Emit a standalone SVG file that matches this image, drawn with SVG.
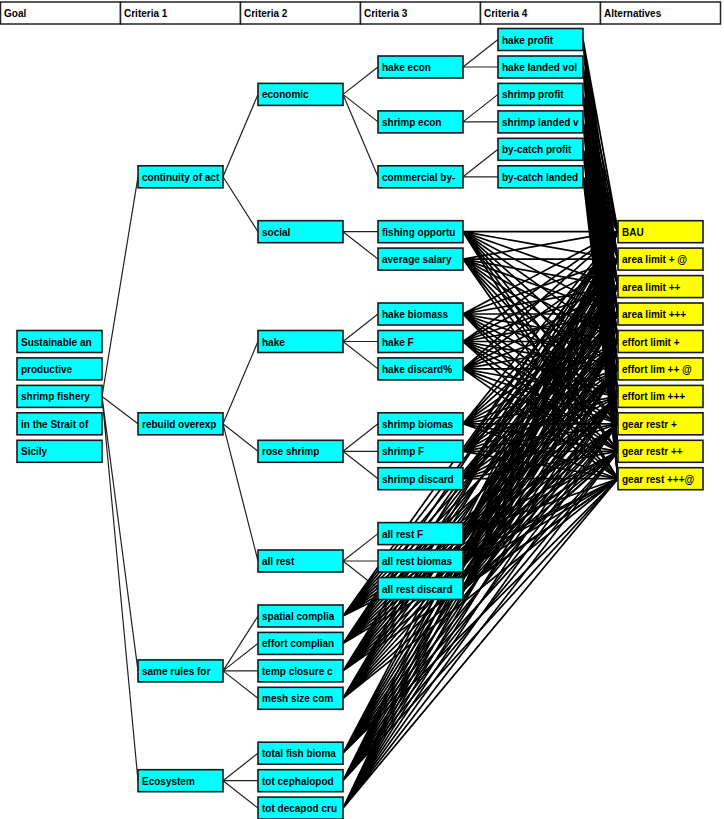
<svg xmlns="http://www.w3.org/2000/svg" width="724" height="819" viewBox="0 0 724 819">
<style>
text{font-family:"Liberation Sans",Arial,sans-serif;font-size:10px;font-weight:bold;fill:#000}
.h rect{fill:#fff;stroke:#222;stroke-width:1.5}
.n rect{fill:#00ffff;stroke:#1a1a1a;stroke-width:1.6}
.a rect{fill:#ffff00;stroke:#1a1a1a;stroke-width:1.6}
.t path{fill:none;stroke:#222;stroke-width:1.2}
.f path{fill:none;stroke:#000;stroke-width:1.7}
</style>
<rect width="724" height="819" fill="#fff"/>
<g id="header" class="h">
<rect x="0.5" y="2" width="120" height="22"/><text x="4" y="17">Goal</text>
<rect x="120.5" y="2" width="120" height="22"/><text x="124" y="17">Criteria 1</text>
<rect x="240.5" y="2" width="120" height="22"/><text x="244" y="17">Criteria 2</text>
<rect x="360.5" y="2" width="120" height="22"/><text x="364" y="17">Criteria 3</text>
<rect x="480.5" y="2" width="120" height="22"/><text x="484" y="17">Criteria 4</text>
<rect x="600.5" y="2" width="120" height="22"/><text x="604" y="17">Alternatives</text>
</g>
<g id="connectors">
<g class="t">
<path d="M102 396.4L138 176.8M102 396.4L138 423.8M102 396.4L138 670.9M102 396.4L138 780.7"/>
<path d="M223 176.8L258 94.4M223 176.8L258 231.7"/>
<path d="M223 423.8L258 341.5M223 423.8L258 451.3M223 423.8L258 561"/>
<path d="M223 670.9L258 616M223 670.9L258 643.4M223 670.9L258 670.9M223 670.9L258 698.3"/>
<path d="M223 780.7L258 753.2M223 780.7L258 780.7M223 780.7L258 808.1"/>
<path d="M343 94.4L378 67M343 94.4L378 121.9M343 94.4L378 176.8"/>
<path d="M343 231.7L378 231.7M343 231.7L378 259.1"/>
<path d="M343 341.5L378 314M343 341.5L378 341.5M343 341.5L378 368.9"/>
<path d="M343 451.3L378 423.8M343 451.3L378 451.3M343 451.3L378 478.7"/>
<path d="M343 561L378 533.6M343 561L378 561M343 561L378 588.5"/>
<path d="M463 67L498 39.5M463 67L498 67"/>
<path d="M463 121.9L498 94.4M463 121.9L498 121.9"/>
<path d="M463 176.8L498 149.3M463 176.8L498 176.8"/>
</g>
<g class="f">
<path d="M583 39.5L618 231.7M583 39.5L618 259.1M583 39.5L618 286.6M583 39.5L618 314M583 39.5L618 341.5M583 39.5L618 368.9M583 39.5L618 396.4M583 39.5L618 423.8M583 39.5L618 451.3M583 39.5L618 478.7"/>
<path d="M583 67L618 231.7M583 67L618 259.1M583 67L618 286.6M583 67L618 314M583 67L618 341.5M583 67L618 368.9M583 67L618 396.4M583 67L618 423.8M583 67L618 451.3M583 67L618 478.7"/>
<path d="M583 94.4L618 231.7M583 94.4L618 259.1M583 94.4L618 286.6M583 94.4L618 314M583 94.4L618 341.5M583 94.4L618 368.9M583 94.4L618 396.4M583 94.4L618 423.8M583 94.4L618 451.3M583 94.4L618 478.7"/>
<path d="M583 121.9L618 231.7M583 121.9L618 259.1M583 121.9L618 286.6M583 121.9L618 314M583 121.9L618 341.5M583 121.9L618 368.9M583 121.9L618 396.4M583 121.9L618 423.8M583 121.9L618 451.3M583 121.9L618 478.7"/>
<path d="M583 149.3L618 231.7M583 149.3L618 259.1M583 149.3L618 286.6M583 149.3L618 314M583 149.3L618 341.5M583 149.3L618 368.9M583 149.3L618 396.4M583 149.3L618 423.8M583 149.3L618 451.3M583 149.3L618 478.7"/>
<path d="M583 176.8L618 231.7M583 176.8L618 259.1M583 176.8L618 286.6M583 176.8L618 314M583 176.8L618 341.5M583 176.8L618 368.9M583 176.8L618 396.4M583 176.8L618 423.8M583 176.8L618 451.3M583 176.8L618 478.7"/>
<path d="M463 231.7L618 231.7M463 231.7L618 259.1M463 231.7L618 286.6M463 231.7L618 314M463 231.7L618 341.5M463 231.7L618 368.9M463 231.7L618 396.4M463 231.7L618 423.8M463 231.7L618 451.3M463 231.7L618 478.7"/>
<path d="M463 259.1L618 231.7M463 259.1L618 259.1M463 259.1L618 286.6M463 259.1L618 314M463 259.1L618 341.5M463 259.1L618 368.9M463 259.1L618 396.4M463 259.1L618 423.8M463 259.1L618 451.3M463 259.1L618 478.7"/>
<path d="M463 314L618 231.7M463 314L618 259.1M463 314L618 286.6M463 314L618 314M463 314L618 341.5M463 314L618 368.9M463 314L618 396.4M463 314L618 423.8M463 314L618 451.3M463 314L618 478.7"/>
<path d="M463 341.5L618 231.7M463 341.5L618 259.1M463 341.5L618 286.6M463 341.5L618 314M463 341.5L618 341.5M463 341.5L618 368.9M463 341.5L618 396.4M463 341.5L618 423.8M463 341.5L618 451.3M463 341.5L618 478.7"/>
<path d="M463 368.9L618 231.7M463 368.9L618 259.1M463 368.9L618 286.6M463 368.9L618 314M463 368.9L618 341.5M463 368.9L618 368.9M463 368.9L618 396.4M463 368.9L618 423.8M463 368.9L618 451.3M463 368.9L618 478.7"/>
<path d="M463 423.8L618 231.7M463 423.8L618 259.1M463 423.8L618 286.6M463 423.8L618 314M463 423.8L618 341.5M463 423.8L618 368.9M463 423.8L618 396.4M463 423.8L618 423.8M463 423.8L618 451.3M463 423.8L618 478.7"/>
<path d="M463 451.3L618 231.7M463 451.3L618 259.1M463 451.3L618 286.6M463 451.3L618 314M463 451.3L618 341.5M463 451.3L618 368.9M463 451.3L618 396.4M463 451.3L618 423.8M463 451.3L618 451.3M463 451.3L618 478.7"/>
<path d="M463 478.7L618 231.7M463 478.7L618 259.1M463 478.7L618 286.6M463 478.7L618 314M463 478.7L618 341.5M463 478.7L618 368.9M463 478.7L618 396.4M463 478.7L618 423.8M463 478.7L618 451.3M463 478.7L618 478.7"/>
<path d="M463 533.6L618 231.7M463 533.6L618 259.1M463 533.6L618 286.6M463 533.6L618 314M463 533.6L618 341.5M463 533.6L618 368.9M463 533.6L618 396.4M463 533.6L618 423.8M463 533.6L618 451.3M463 533.6L618 478.7"/>
<path d="M463 561L618 231.7M463 561L618 259.1M463 561L618 286.6M463 561L618 314M463 561L618 341.5M463 561L618 368.9M463 561L618 396.4M463 561L618 423.8M463 561L618 451.3M463 561L618 478.7"/>
<path d="M463 588.5L618 231.7M463 588.5L618 259.1M463 588.5L618 286.6M463 588.5L618 314M463 588.5L618 341.5M463 588.5L618 368.9M463 588.5L618 396.4M463 588.5L618 423.8M463 588.5L618 451.3M463 588.5L618 478.7"/>
<path d="M343 616L618 231.7M343 616L618 259.1M343 616L618 286.6M343 616L618 314M343 616L618 341.5M343 616L618 368.9M343 616L618 396.4M343 616L618 423.8M343 616L618 451.3M343 616L618 478.7"/>
<path d="M343 643.4L618 231.7M343 643.4L618 259.1M343 643.4L618 286.6M343 643.4L618 314M343 643.4L618 341.5M343 643.4L618 368.9M343 643.4L618 396.4M343 643.4L618 423.8M343 643.4L618 451.3M343 643.4L618 478.7"/>
<path d="M343 670.9L618 231.7M343 670.9L618 259.1M343 670.9L618 286.6M343 670.9L618 314M343 670.9L618 341.5M343 670.9L618 368.9M343 670.9L618 396.4M343 670.9L618 423.8M343 670.9L618 451.3M343 670.9L618 478.7"/>
<path d="M343 698.3L618 231.7M343 698.3L618 259.1M343 698.3L618 286.6M343 698.3L618 314M343 698.3L618 341.5M343 698.3L618 368.9M343 698.3L618 396.4M343 698.3L618 423.8M343 698.3L618 451.3M343 698.3L618 478.7"/>
<path d="M343 753.2L618 231.7M343 753.2L618 259.1M343 753.2L618 286.6M343 753.2L618 314M343 753.2L618 341.5M343 753.2L618 368.9M343 753.2L618 396.4M343 753.2L618 423.8M343 753.2L618 451.3M343 753.2L618 478.7"/>
<path d="M343 780.7L618 231.7M343 780.7L618 259.1M343 780.7L618 286.6M343 780.7L618 314M343 780.7L618 341.5M343 780.7L618 368.9M343 780.7L618 396.4M343 780.7L618 423.8M343 780.7L618 451.3M343 780.7L618 478.7"/>
<path d="M343 808.1L618 231.7M343 808.1L618 259.1M343 808.1L618 286.6M343 808.1L618 314M343 808.1L618 341.5M343 808.1L618 368.9M343 808.1L618 396.4M343 808.1L618 423.8M343 808.1L618 451.3M343 808.1L618 478.7"/>
</g>
</g>
<g id="goal-1" class="n"><rect x="17" y="330.5" width="85" height="22"/><text x="21" y="345.5">Sustainable an</text></g>
<g id="goal-2" class="n"><rect x="17" y="357.9" width="85" height="22"/><text x="21" y="372.9">productive</text></g>
<g id="goal-3" class="n"><rect x="17" y="385.4" width="85" height="22"/><text x="21" y="400.4">shrimp fishery</text></g>
<g id="goal-4" class="n"><rect x="17" y="412.8" width="85" height="22"/><text x="21" y="427.8">in the Strait of</text></g>
<g id="goal-5" class="n"><rect x="17" y="440.3" width="85" height="22"/><text x="21" y="455.3">Sicily</text></g>
<g id="continuity" class="n"><rect x="138" y="165.8" width="85" height="22"/><text x="142" y="180.8">continuity of act</text></g>
<g id="rebuild" class="n"><rect x="138" y="412.8" width="85" height="22"/><text x="142" y="427.8">rebuild overexp</text></g>
<g id="same-rules" class="n"><rect x="138" y="659.9" width="85" height="22"/><text x="142" y="674.9">same rules for</text></g>
<g id="ecosystem" class="n"><rect x="138" y="769.7" width="85" height="22"/><text x="142" y="784.7">Ecosystem</text></g>
<g id="economic" class="n"><rect x="258" y="83.4" width="85" height="22"/><text x="262" y="98.4">economic</text></g>
<g id="social" class="n"><rect x="258" y="220.7" width="85" height="22"/><text x="262" y="235.7">social</text></g>
<g id="hake" class="n"><rect x="258" y="330.5" width="85" height="22"/><text x="262" y="345.5">hake</text></g>
<g id="rose-shrimp" class="n"><rect x="258" y="440.3" width="85" height="22"/><text x="262" y="455.3">rose shrimp</text></g>
<g id="all-rest" class="n"><rect x="258" y="550" width="85" height="22"/><text x="262" y="565">all rest</text></g>
<g id="spatial" class="n"><rect x="258" y="605" width="85" height="22"/><text x="262" y="620">spatial complia</text></g>
<g id="effort-comp" class="n"><rect x="258" y="632.4" width="85" height="22"/><text x="262" y="647.4">effort complian</text></g>
<g id="temp-closure" class="n"><rect x="258" y="659.9" width="85" height="22"/><text x="262" y="674.9">temp closure c</text></g>
<g id="mesh-size" class="n"><rect x="258" y="687.3" width="85" height="22"/><text x="262" y="702.3">mesh size com</text></g>
<g id="total-fish" class="n"><rect x="258" y="742.2" width="85" height="22"/><text x="262" y="757.2">total fish bioma</text></g>
<g id="tot-ceph" class="n"><rect x="258" y="769.7" width="85" height="22"/><text x="262" y="784.7">tot cephalopod</text></g>
<g id="tot-decapod" class="n"><rect x="258" y="797.1" width="85" height="22"/><text x="262" y="812.1">tot decapod cru</text></g>
<g id="hake-econ" class="n"><rect x="378" y="56" width="85" height="22"/><text x="382" y="71">hake econ</text></g>
<g id="shrimp-econ" class="n"><rect x="378" y="110.9" width="85" height="22"/><text x="382" y="125.9">shrimp econ</text></g>
<g id="commercial" class="n"><rect x="378" y="165.8" width="85" height="22"/><text x="382" y="180.8">commercial by-</text></g>
<g id="fishing-opp" class="n"><rect x="378" y="220.7" width="85" height="22"/><text x="382" y="235.7">fishing opportu</text></g>
<g id="avg-salary" class="n"><rect x="378" y="248.1" width="85" height="22"/><text x="382" y="263.1">average salary</text></g>
<g id="hake-biomass" class="n"><rect x="378" y="303" width="85" height="22"/><text x="382" y="318">hake biomass</text></g>
<g id="hake-f" class="n"><rect x="378" y="330.5" width="85" height="22"/><text x="382" y="345.5">hake F</text></g>
<g id="hake-discard" class="n"><rect x="378" y="357.9" width="85" height="22"/><text x="382" y="372.9">hake discard%</text></g>
<g id="shrimp-biomas" class="n"><rect x="378" y="412.8" width="85" height="22"/><text x="382" y="427.8">shrimp biomas</text></g>
<g id="shrimp-f" class="n"><rect x="378" y="440.3" width="85" height="22"/><text x="382" y="455.3">shrimp F</text></g>
<g id="shrimp-discard" class="n"><rect x="378" y="467.7" width="85" height="22"/><text x="382" y="482.7">shrimp discard</text></g>
<g id="allrest-f" class="n"><rect x="378" y="522.6" width="85" height="22"/><text x="382" y="537.6">all rest F</text></g>
<g id="allrest-biomas" class="n"><rect x="378" y="550" width="85" height="22"/><text x="382" y="565">all rest biomas</text></g>
<g id="allrest-discard" class="n"><rect x="378" y="577.5" width="85" height="22"/><text x="382" y="592.5">all rest discard</text></g>
<g id="hake-profit" class="n"><rect x="498" y="28.5" width="85" height="22"/><text x="502" y="43.5">hake profit</text></g>
<g id="hake-landed" class="n"><rect x="498" y="56" width="85" height="22"/><text x="502" y="71">hake landed vol</text></g>
<g id="shrimp-profit" class="n"><rect x="498" y="83.4" width="85" height="22"/><text x="502" y="98.4">shrimp profit</text></g>
<g id="shrimp-landed" class="n"><rect x="498" y="110.9" width="85" height="22"/><text x="502" y="125.9">shrimp landed v</text></g>
<g id="bycatch-profit" class="n"><rect x="498" y="138.3" width="85" height="22"/><text x="502" y="153.3">by-catch profit</text></g>
<g id="bycatch-landed" class="n"><rect x="498" y="165.8" width="85" height="22"/><text x="502" y="180.8">by-catch landed</text></g>
<g id="alt-bau" class="a"><rect x="618" y="220.7" width="85" height="22"/><text x="622" y="235.7">BAU</text></g>
<g id="alt-area1" class="a"><rect x="618" y="248.1" width="85" height="22"/><text x="622" y="263.1">area limit + @</text></g>
<g id="alt-area2" class="a"><rect x="618" y="275.6" width="85" height="22"/><text x="622" y="290.6">area limit ++</text></g>
<g id="alt-area3" class="a"><rect x="618" y="303" width="85" height="22"/><text x="622" y="318">area limit +++</text></g>
<g id="alt-effort1" class="a"><rect x="618" y="330.5" width="85" height="22"/><text x="622" y="345.5">effort limit +</text></g>
<g id="alt-effort2" class="a"><rect x="618" y="357.9" width="85" height="22"/><text x="622" y="372.9">effort lim ++ @</text></g>
<g id="alt-effort3" class="a"><rect x="618" y="385.4" width="85" height="22"/><text x="622" y="400.4">effort lim +++</text></g>
<g id="alt-gear1" class="a"><rect x="618" y="412.8" width="85" height="22"/><text x="622" y="427.8">gear restr +</text></g>
<g id="alt-gear2" class="a"><rect x="618" y="440.3" width="85" height="22"/><text x="622" y="455.3">gear restr ++</text></g>
<g id="alt-gear3" class="a"><rect x="618" y="467.7" width="85" height="22"/><text x="622" y="482.7">gear rest +++@</text></g>
</svg>
